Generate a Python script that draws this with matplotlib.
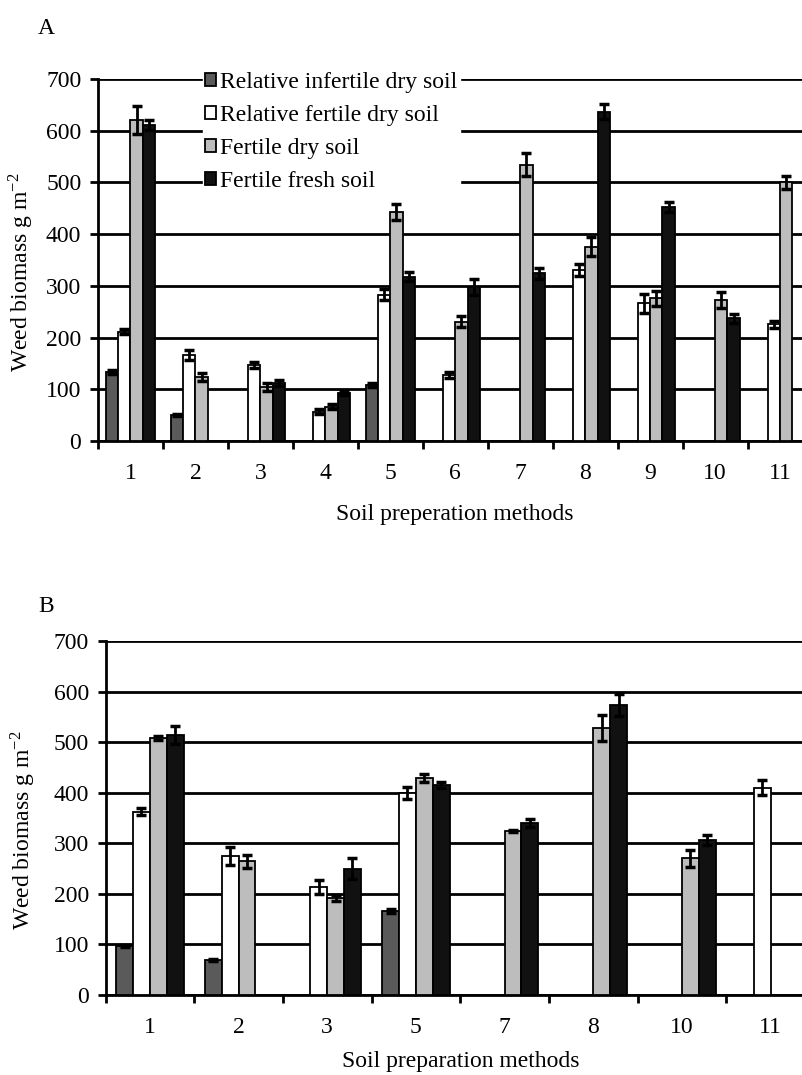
import numpy as np
import matplotlib
matplotlib.use("Agg")
import matplotlib.pyplot as plt

plt.rcParams['font.family'] = ['Liberation Serif', 'DejaVu Serif']
plt.rcParams['mathtext.fontset'] = 'stix'
plt.rcParams['axes.unicode_minus'] = False

# Data
series = ["Relative infertile dry soil", "Relative fertile dry soil",
          "Fertile dry soil", "Fertile fresh soil"]
colors = ["#5a5a5a", "#ffffff", "#bdbdbd", "#111111"]

# Panel A (nan = no bar)
cats_a = ["1", "2", "3", "4", "5", "6", "7", "8", "9", "10", "11"]
a_infertile = [133, 50, np.nan, np.nan, 108, np.nan, np.nan, np.nan, np.nan, np.nan, np.nan]
a_rel_fertile = [211, 166, 147, 57, 283, 128, np.nan, 331, 266, np.nan, 226]
a_fertile_dry = [621, 124, 105, 66, 443, 231, 534, 376, 276, 273, 500]
a_fertile_fresh = [611, np.nan, 112, 92, 318, 298, 324, 637, 453, 237, np.nan]
a_err_infertile = [4, 2, 0, 0, 4, 0, 0, 0, 0, 0, 0]
a_err_rel_fertile = [5, 10, 5, 4, 10, 6, 0, 12, 18, 0, 7]
a_err_fertile_dry = [27, 8, 8, 5, 15, 10, 22, 18, 15, 15, 12]
a_err_fertile_fresh = [10, 0, 5, 4, 8, 15, 10, 15, 10, 8, 0]

# Panel B
cats_b = ["1", "2", "3", "5", "7", "8", "10", "11"]
b_infertile = [97, 70, np.nan, 167, np.nan, np.nan, np.nan, np.nan]
b_rel_fertile = [362, 275, 213, 400, np.nan, np.nan, np.nan, 410]
b_fertile_dry = [508, 264, 191, 429, 325, 528, 270, np.nan]
b_fertile_fresh = [514, np.nan, 250, 415, 340, 574, 306, np.nan]
b_err_infertile = [2, 2, 0, 4, 0, 0, 0, 0]
b_err_rel_fertile = [7, 18, 14, 12, 0, 0, 0, 15]
b_err_fertile_dry = [4, 12, 6, 8, 2, 25, 17, 0]
b_err_fertile_fresh = [18, 0, 20, 6, 8, 22, 10, 0]

W, H = 802, 1075
FS = 17
fig = plt.figure(figsize=(W / 100, H / 100), dpi=100)


def panel(rect, cats, vals, errs, xlabel, right_lim, xlab_pad, ylab_x, legend=False):
    ax = fig.add_axes(rect)
    n = len(cats)
    x = np.arange(n)
    bw = 0.19
    for i, (v, e) in enumerate(zip(vals, errs)):
        v = np.array(v, dtype=float)
        e = np.array(e, dtype=float)
        pos = x + (i - 1.5) * bw
        ax.bar(pos, v, width=bw, color=colors[i], edgecolor='black',
               linewidth=1.3, zorder=3, label=series[i])
        ok = ~np.isnan(v) & (e > 0)
        ax.errorbar(pos[ok], v[ok], yerr=e[ok], fmt='none', ecolor='black',
                    elinewidth=2, capsize=3.5, capthick=2.5, zorder=4)
    ax.set_ylim(0, 700)
    ax.set_yticks(np.arange(0, 701, 100))
    ax.yaxis.grid(True, color='black', linewidth=2)
    ax.set_axisbelow(True)
    ax.set_xlim(-0.5, right_lim)
    ax.set_xticks(x)
    ax.set_xticklabels(cats)
    ax.set_xticks(np.arange(n + 1) - 0.5, minor=True)
    ax.tick_params(axis='x', which='major', length=0, pad=16, labelsize=FS)
    ax.tick_params(axis='x', which='minor', length=6, width=2, direction='out')
    ax.tick_params(axis='y', length=6, width=2, direction='out', pad=6, labelsize=FS)
    for s in ['top', 'right']:
        ax.spines[s].set_visible(False)
    ax.spines['left'].set_linewidth(2)
    ax.spines['bottom'].set_linewidth(2)
    ax.set_xlabel(xlabel, fontsize=FS, labelpad=xlab_pad)
    ax.set_ylabel("Weed biomass g m$^{\\mathregular{-2}}$", fontsize=FS)
    ax.yaxis.set_label_coords(ylab_x, 0.465)
    if legend:
        leg = ax.legend(loc='upper left', bbox_to_anchor=(0.13, 1.058),
                        frameon=True, fancybox=False, edgecolor='white',
                        framealpha=1, fontsize=FS, handlelength=0.45,
                        handleheight=0.45, handletextpad=0.2,
                        labelspacing=0.5, borderpad=0.1)
        leg.set_zorder(5)
    return ax


# Panel A: axis from x=98 to 812 px, y from 441 to 79 px
axA = panel([98 / W, 1 - 441 / H, (812.5 - 98) / W, (441 - 79) / H],
            cats_a, [a_infertile, a_rel_fertile, a_fertile_dry, a_fertile_fresh],
            [a_err_infertile, a_err_rel_fertile, a_err_fertile_dry, a_err_fertile_fresh],
            "Soil preperation methods", 10.5, 14, -62 / 714.5, legend=True)
axB = panel([105.5 / W, 1 - 995 / H, (815 - 105.5) / W, (995 - 641) / H],
            cats_b, [b_infertile, b_rel_fertile, b_fertile_dry, b_fertile_fresh],
            [b_err_infertile, b_err_rel_fertile, b_err_fertile_dry, b_err_fertile_fresh],
            "Soil preparation methods", 7.5, 9, -67 / 709.5)

fig.text(38 / W, 1 - 29 / H, "A", fontsize=FS, va='center')
fig.text(38 / W, 1 - 606 / H, "B", fontsize=FS, va='center')

fig.savefig("out.png", dpi=100)
